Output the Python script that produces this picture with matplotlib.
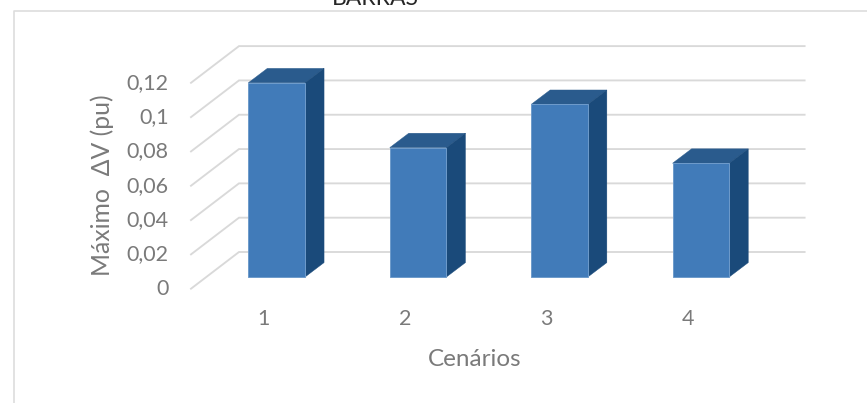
#!/usr/bin/env python3
"""
Maximo Delta V por cenario, colunas com efeito 3D
"""
import matplotlib
matplotlib.use("Agg")
import matplotlib.pyplot as plt
from matplotlib.lines import Line2D
from matplotlib.patches import Polygon, Rectangle

plt.rcParams['font.family'] = ['Lato', 'DejaVu Sans']

cenarios = [1, 2, 3, 4]
max_delta_v = [0.1132, 0.0754, 0.1006, 0.0663]
y_ticks = [0, 0.02, 0.04, 0.06, 0.08, 0.1, 0.12]
y_tick_labels = ['0', '0,02', '0,04', '0,06', '0,08', '0,1', '0,12']

W, H = 867, 403
GRAY_TEXT = '#7A7A7A'
GRID = '#D9D9D9'
FRONT = '#417BB9'
EDGE = '#6E9BCB'
TOP = '#2A5B8D'
SIDE = '#1A4A7A'

fig = plt.figure(figsize=(W / 100, H / 100), dpi=100)
# plano das colunas: categorias 0.5-4.5 e valores 0-0.12
ax = fig.add_axes([206 / W, (H - 277) / H, 565.6 / W, 205.9 / H])
ax.set_xlim(0.5, 4.5)
ax.set_ylim(0, 0.12)
ax.axis('off')

# conversao de pixels para unidades dos eixos
px_x = 4 / 565.6
px_y = 0.12 / 205.9
bar_w = 56.7 * px_x
# profundidade da coluna, da parede do fundo e do piso frontal
bar_dx, bar_dy = 19 * px_x, 14.4 * px_y
back_dx, back_dy = 33 * px_x, 25 * px_y
front_dx, front_dy = -15 * px_x, -11.7 * px_y

# grade: diagonal no piso lateral + linha na parede do fundo
for v in y_ticks:
    ax.plot([0.5 + front_dx, 0.5 + back_dx, 4.5 + back_dx],
            [v + front_dy, v + back_dy, v + back_dy],
            color=GRID, lw=1.35, clip_on=False, zorder=1, solid_joinstyle='miter')
    ax.annotate(y_tick_labels[y_ticks.index(v)], xy=(0.5 + front_dx, v + front_dy),
                xytext=(-16, 0), textcoords='offset points', ha='right', va='center',
                fontsize=15.5, color=GRAY_TEXT, annotation_clip=False)

# colunas
for c, v in zip(cenarios, max_delta_v):
    x0, x1 = c - bar_w / 2, c + bar_w / 2
    ax.add_patch(Polygon([(x0, v), (x1, v), (x1 + bar_dx, v + bar_dy), (x0 + bar_dx, v + bar_dy)],
                         closed=True, fc=TOP, ec=TOP, lw=0.3, clip_on=False, zorder=3))
    ax.add_patch(Polygon([(x1, 0), (x1 + bar_dx, bar_dy), (x1 + bar_dx, v + bar_dy), (x1, v)],
                         closed=True, fc=SIDE, ec=SIDE, lw=0.3, clip_on=False, zorder=3))
    ax.add_patch(Rectangle((x0, 0), bar_w, v, fc=FRONT, ec=EDGE, lw=0.7, clip_on=False, zorder=4))
    ax.annotate(str(c), xy=(c, 0), xytext=(-9.5, -30.5), textcoords='offset points',
                ha='center', va='center', fontsize=15.5, color=GRAY_TEXT, annotation_clip=False)

# textos gerais
fig.text(102 / W, 1 - 185.5 / H, 'Máximo  ΔV (pu)', rotation=90, ha='center', va='center',
         fontsize=17.8, color=GRAY_TEXT)
fig.text(475 / W, 1 - 359 / H, 'Cenários', ha='center', va='center', fontsize=17.5, color=GRAY_TEXT)
fig.text(375 / W, 1 - 5 / H, 'BARRAS', ha='center', va='baseline', fontsize=16.5, color='#262626')

# moldura da area do grafico
fig.add_artist(Line2D([13.5 / W, 13.5 / W, 1], [0, 1 - 10.5 / H, 1 - 10.5 / H], color='#DDDDDD', lw=1.2))

plt.savefig('out.png', dpi=100)
plt.close()
